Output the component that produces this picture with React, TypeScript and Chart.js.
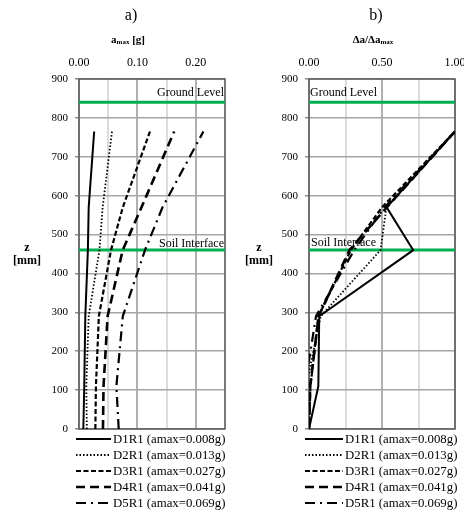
import React, { useEffect, useRef } from "react";
import { Chart, registerables } from "chart.js";
Chart.register(...registerables);

const FONT = '"Liberation Serif", "Times New Roman", serif';

// depths of the measurement points [mm]
const DEPTHS = [0, 110, 290, 460, 570, 765];
const SERIES_LABELS = [
  "D1R1 (amax=0.008g)",
  "D2R1 (amax=0.013g)",
  "D3R1 (amax=0.027g)",
  "D4R1 (amax=0.041g)",
  "D5R1 (amax=0.069g)",
];

// panel a) amax [g]
const AMAX_D1 = [0.0074, 0.009, 0.0108, 0.0152, 0.0166, 0.026];
const AMAX_D2 = [0.0135, 0.0125, 0.0166, 0.035, 0.0405, 0.0565];
const AMAX_D3 = [0.028, 0.029, 0.034, 0.0548, 0.075, 0.1215];
const AMAX_D4 = [0.041, 0.042, 0.049, 0.0748, 0.107, 0.163];
const AMAX_D5 = [0.068, 0.064, 0.075, 0.113, 0.143, 0.213];

// panel b) Δa/Δamax
const RATIO_D1 = [0, 0.064, 0.07, 0.714, 0.532, 1.0];
const RATIO_D2 = [0, -0.02, 0.08, 0.49, 0.53, 1.0];
const RATIO_D3 = [0, 0.01, 0.064, 0.287, 0.5, 1.0];
const RATIO_D4 = [0, 0.008, 0.066, 0.277, 0.533, 1.0];
const RATIO_D5 = [0, -0.028, 0.048, 0.31, 0.517, 1.0];

// reference levels [mm]
const GROUND_LEVEL = 840;
const SOIL_INTERFACE = 460;

const Y_MIN = 0;
const Y_MAX = 900;
const Y_STEP = 100;

const A_MAX = 0.25;
const A_STEP = 0.05;
const A_LABEL_STEP = 0.1;
const R_MAX = 1.0;
const R_STEP = 0.25;
const R_LABEL_STEP = 0.5;

const DASHES: number[][] = [[], [1.5, 2], [5, 2.5], [9, 5], [10, 5, 2, 5]];
const WIDTHS = [2, 1.8, 2.2, 2.6, 2.2];

const H = 517;
const AREA_TOP = 79;
const AREA_BOTTOM = 429;

type PanelProps = {
  left: number;
  width: number;
  areaLeft: number;
  areaRight: number;
  xMax: number;
  xStep: number;
  labelStep: number;
  values: number[][];
  title: string;
  titleX: number;
  axisTitle: (ctx: CanvasRenderingContext2D) => void;
  zX: number;
  labelsRight: boolean;
  groundOffset: number;
  soilOffset: number;
  legendClip: number;
};

function Panel(p: PanelProps) {
  const ref = useRef<HTMLCanvasElement>(null);
  useEffect(() => {
    const datasets: any[] = SERIES_LABELS.map((label, i) => ({
      label,
      data: DEPTHS.map((z, j) => ({ x: p.values[i][j], y: z })),
      showLine: true,
      borderColor: "#000",
      backgroundColor: "#000",
      borderWidth: WIDTHS[i],
      borderDash: DASHES[i],
      pointRadius: 0,
      fill: false,
      tension: 0,
      inLegend: true,
    }));
    [GROUND_LEVEL, SOIL_INTERFACE].forEach((lvl) => {
      datasets.push({
        label: "level",
        data: [
          { x: 0, y: lvl },
          { x: p.xMax, y: lvl },
        ],
        showLine: true,
        borderColor: "#00b050",
        borderWidth: 3,
        pointRadius: 0,
        inLegend: false,
      });
    });

    const isMajor = (v: number) =>
      Math.abs(v / p.labelStep - Math.round(v / p.labelStep)) < 1e-6;

    const deco = {
      id: "deco",
      beforeDraw(chart: any) {
        const c = chart.ctx;
        c.save();
        c.fillStyle = "#fff";
        c.fillRect(0, 0, chart.width, chart.height);
        c.restore();
      },
      beforeDatasetsDraw(chart: any) {
        const c = chart.ctx;
        const a = chart.chartArea;
        const ys = chart.scales.y;
        c.save();
        c.strokeStyle = "#595959";
        c.lineWidth = 1.5;
        c.strokeRect(a.left, a.top, a.right - a.left, a.bottom - a.top);
        c.fillStyle = "#000";
        c.font = `12px ${FONT}`;
        c.textBaseline = "alphabetic";
        const gy = ys.getPixelForValue(GROUND_LEVEL) - p.groundOffset;
        const sy = ys.getPixelForValue(SOIL_INTERFACE) - p.soilOffset;
        if (p.labelsRight) {
          c.textAlign = "right";
          c.fillText("Ground Level", a.right - 1, gy);
          c.fillText("Soil Interface", a.right - 1, sy);
        } else {
          c.textAlign = "left";
          c.fillText("Ground Level", a.left + 1, gy);
          c.fillText("Soil Interface", a.left + 2, sy);
        }
        c.restore();
      },
      afterDraw(chart: any) {
        const c = chart.ctx;
        c.save();
        c.fillStyle = "#000";
        // panel title
        c.font = `16px ${FONT}`;
        c.textAlign = "center";
        c.textBaseline = "alphabetic";
        c.fillText(p.title, p.titleX, 20);
        // x axis title
        p.axisTitle(c);
        // y axis title
        c.font = `bold 12px ${FONT}`;
        c.textAlign = "center";
        c.fillText("z", p.zX, 251);
        c.fillText("[mm]", p.zX, 264);
        // legend
        c.save();
        c.beginPath();
        c.rect(0, 430, p.legendClip, H - 430);
        c.clip();
        const items = chart.data.datasets.filter((d: any) => d.inLegend);
        items.forEach((d: any, i: number) => {
          const y = 439 + i * 16;
          c.save();
          c.strokeStyle = "#000";
          c.lineWidth = d.borderWidth;
          c.setLineDash(d.borderDash || []);
          c.beginPath();
          c.moveTo(76, y);
          c.lineTo(p.labelsRight ? 111 : 114, y);
          c.stroke();
          c.restore();
          c.font = `12.8px ${FONT}`;
          c.textAlign = "left";
          c.textBaseline = "middle";
          c.fillText(d.label, p.labelsRight ? 113 : 116, y + 0.5);
        });
        c.restore();
        c.restore();
      },
    };

    const chart = new Chart(ref.current as HTMLCanvasElement, {
      type: "scatter",
      data: { datasets },
      plugins: [deco],
      options: {
        responsive: false,
        animation: false,
        events: [],
        layout: {
          padding: { left: 0, top: 0, right: p.width - p.areaRight, bottom: H - AREA_BOTTOM },
        },
        plugins: { legend: { display: false }, tooltip: { enabled: false }, title: { display: false } },
        scales: {
          x: {
            type: "linear",
            position: "top",
            min: 0,
            max: p.xMax,
            ticks: {
              stepSize: p.xStep,
              autoSkip: false,
              maxRotation: 0,
              padding: 9,
              color: "#000",
              font: { family: FONT, size: 12 },
              callback: (v: any) => (isMajor(Number(v)) ? Number(v).toFixed(2) : ""),
            },
            grid: {
              drawTicks: false,
              lineWidth: 2,
              color: (ctx: any) => (ctx.tick && isMajor(ctx.tick.value) ? "#b0b0b0" : "#dcdcdc"),
            },
            border: { display: false },
            afterFit: (s: any) => {
              s.height = AREA_TOP;
              s.paddingLeft = 0;
              s.paddingRight = 0;
            },
          },
          y: {
            type: "linear",
            min: Y_MIN,
            max: Y_MAX,
            ticks: {
              stepSize: Y_STEP,
              padding: 7,
              color: "#000",
              font: { family: FONT, size: 11 },
              callback: (v: any) => String(v),
            },
            grid: {
              color: "#a6a6a6",
              lineWidth: 1.5,
              tickLength: 4,
              tickColor: "#8c8c8c",
            },
            border: { display: false },
            afterFit: (s: any) => {
              s.width = p.areaLeft;
              s.paddingTop = 0;
              s.paddingBottom = 0;
            },
          },
        },
      } as any,
    });
    return () => chart.destroy();
  }, []);
  return (
    <canvas
      ref={ref}
      width={p.width}
      height={H}
      style={{ position: "absolute", left: p.left, top: 0, width: p.width, height: H }}
    />
  );
}

function drawAmaxTitle(c: CanvasRenderingContext2D) {
  const base = 43;
  const big = `bold 11px ${FONT}`;
  const small = `bold 7px ${FONT}`;
  c.textAlign = "left";
  c.textBaseline = "alphabetic";
  c.font = big;
  const w1 = c.measureText("a").width;
  c.font = small;
  const w2 = c.measureText("max").width;
  c.font = big;
  const w3 = c.measureText(" [g]").width;
  let x = 128 - (w1 + w2 + w3) / 2;
  c.font = big;
  c.fillText("a", x, base);
  x += w1;
  c.font = small;
  c.fillText("max", x, base + 1);
  x += w2;
  c.font = big;
  c.fillText(" [g]", x, base);
}

function drawRatioTitle(c: CanvasRenderingContext2D) {
  const base = 43;
  const big = `bold 11px ${FONT}`;
  const small = `bold 7px ${FONT}`;
  c.textAlign = "left";
  c.textBaseline = "alphabetic";
  c.font = big;
  const w1 = c.measureText("Δa/Δa").width;
  c.font = small;
  const w2 = c.measureText("max").width;
  let x = 144 - (w1 + w2) / 2;
  c.font = big;
  c.fillText("Δa/Δa", x, base);
  x += w1;
  c.font = small;
  c.fillText("max", x, base + 1);
}

export default function App() {
  return (
    <div style={{ position: "absolute", left: 0, top: 0, width: 464, height: H, background: "#fff", overflow: "hidden" }}>
      <Panel
        left={0}
        width={229}
        areaLeft={79}
        areaRight={225}
        xMax={A_MAX}
        xStep={A_STEP}
        labelStep={A_LABEL_STEP}
        values={[AMAX_D1, AMAX_D2, AMAX_D3, AMAX_D4, AMAX_D5]}
        title="a)"
        titleX={131}
        axisTitle={drawAmaxTitle}
        zX={27}
        labelsRight={true}
        groundOffset={6}
        soilOffset={3}
        legendClip={226}
      />
      <Panel
        left={229}
        width={235}
        areaLeft={80}
        areaRight={226}
        xMax={R_MAX}
        xStep={R_STEP}
        labelStep={R_LABEL_STEP}
        values={[RATIO_D1, RATIO_D2, RATIO_D3, RATIO_D4, RATIO_D5]}
        title="b)"
        titleX={147}
        axisTitle={drawRatioTitle}
        zX={30}
        labelsRight={false}
        groundOffset={6}
        soilOffset={4.5}
        legendClip={235}
      />
    </div>
  );
}
